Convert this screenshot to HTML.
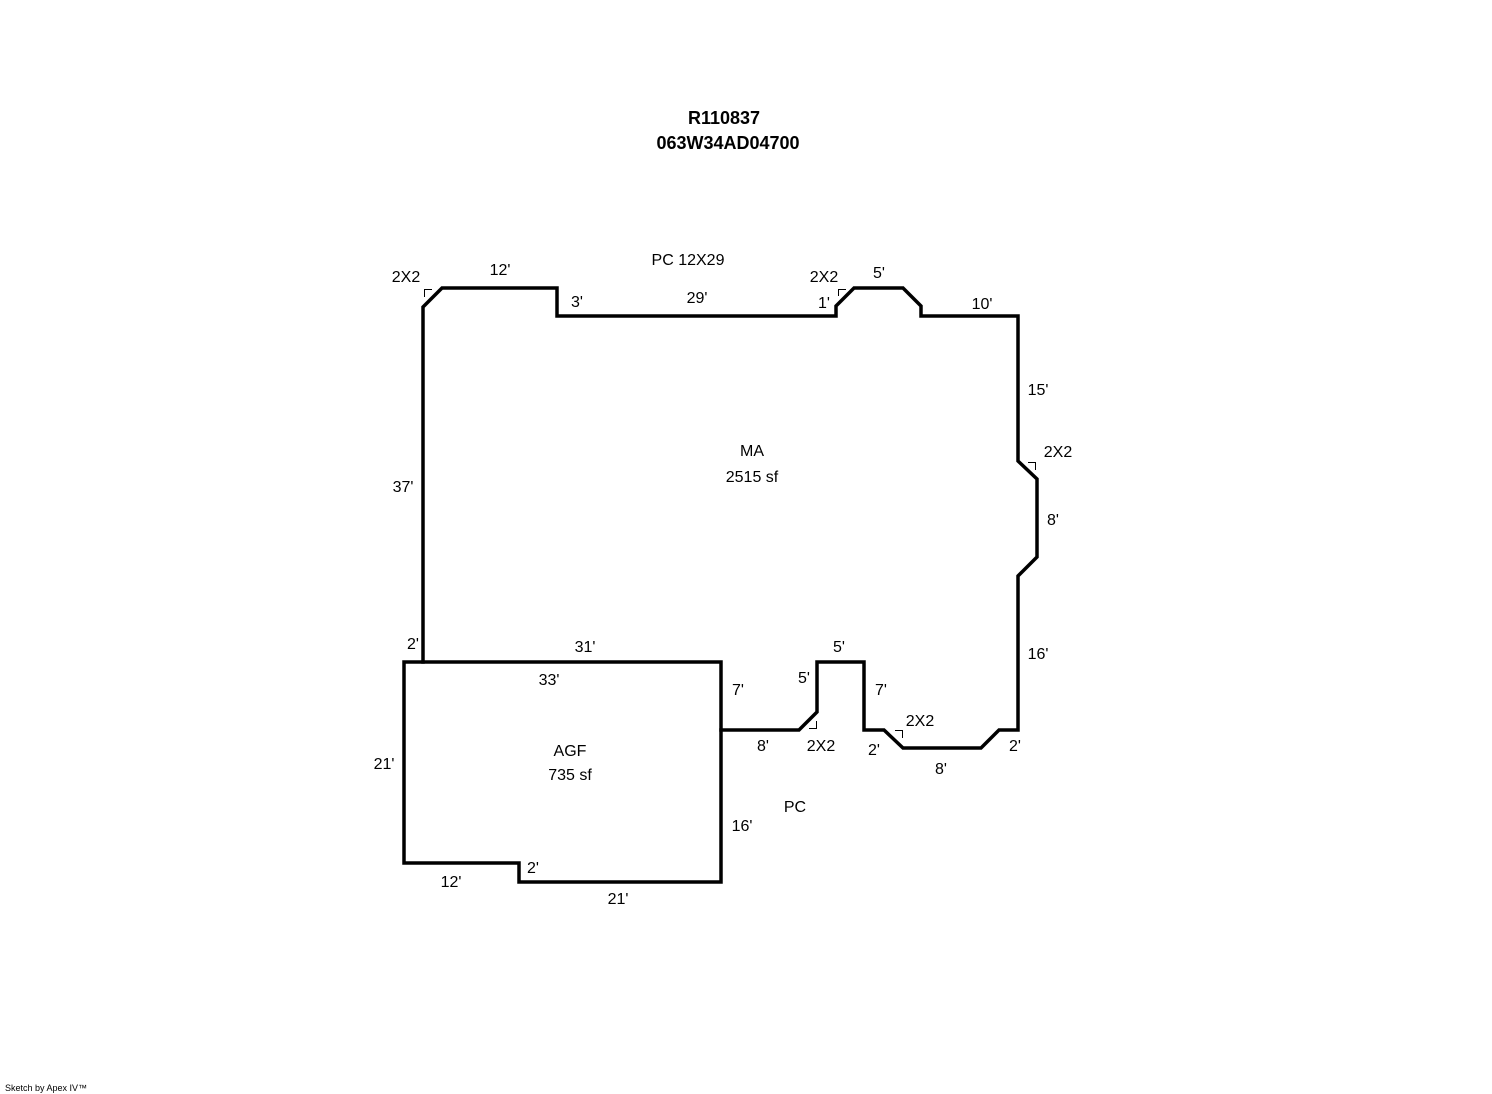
<!DOCTYPE html>
<html><head><meta charset="utf-8"><style>
html,body{margin:0;padding:0;background:#fff;width:1492px;height:1094px;overflow:hidden}
svg{display:block}
text{font-family:"Liberation Sans",Arial,sans-serif;font-size:16px;fill:#000}
</style></head><body>
<svg width="1492" height="1094" viewBox="0 0 1492 1094" xmlns="http://www.w3.org/2000/svg">
<g fill="none" stroke="#000" stroke-width="3.5" stroke-linejoin="miter" stroke-linecap="square">
<polyline points="423,662 423,307 442,288 557,288 557,316 836,316 836,306 854,288 903,288 921,306 921,316 1018,316 1018,461 1037,479 1037,557 1018,576 1018,730 999,730 981,748 903,748 884,730 864,730 864,662 817,662 817,712 799,730 721,730"/>
<polygon points="404,662 721,662 721,882 519,882 519,863 404,863"/>
</g>
<g fill="none" stroke="#000" stroke-width="1">
<polyline points="424.5,297 424.5,289.5 432,289.5"/>
<polyline points="838.5,296 838.5,289.5 846,289.5"/>
<polyline points="1028,462.5 1035.5,462.5 1035.5,470"/>
<polyline points="816.5,721 816.5,728.5 809,728.5"/>
<polyline points="895,730.5 902.5,730.5 902.5,738"/>
</g>
<g text-anchor="middle">
<text x="724" y="124" style="font-weight:bold;font-size:18px">R110837</text>
<text x="728" y="149" style="font-weight:bold;font-size:18px">063W34AD04700</text>
<text x="688" y="265">PC 12X29</text>
<text x="406" y="282">2X2</text>
<text x="500" y="275">12'</text>
<text x="577" y="307">3'</text>
<text x="697" y="303">29'</text>
<text x="824" y="282">2X2</text>
<text x="824" y="308">1'</text>
<text x="879" y="278">5'</text>
<text x="982" y="309">10'</text>
<text x="1038" y="395">15'</text>
<text x="1058" y="457">2X2</text>
<text x="1053" y="525">8'</text>
<text x="1038" y="659">16'</text>
<text x="752" y="456">MA</text>
<text x="752" y="482">2515 sf</text>
<text x="403" y="492">37'</text>
<text x="413" y="649">2'</text>
<text x="585" y="652">31'</text>
<text x="549" y="685">33'</text>
<text x="738" y="695">7'</text>
<text x="839" y="652">5'</text>
<text x="804" y="683">5'</text>
<text x="881" y="695">7'</text>
<text x="920" y="726">2X2</text>
<text x="763" y="751">8'</text>
<text x="821" y="751">2X2</text>
<text x="874" y="755">2'</text>
<text x="1015" y="751">2'</text>
<text x="941" y="774">8'</text>
<text x="570" y="756">AGF</text>
<text x="570" y="780">735 sf</text>
<text x="384" y="769">21'</text>
<text x="742" y="831">16'</text>
<text x="795" y="812">PC</text>
<text x="533" y="873">2'</text>
<text x="451" y="887">12'</text>
<text x="618" y="904">21'</text>
</g>
<text x="5" y="1091" style="font-size:9px">Sketch by Apex IV™</text>
</svg>
</body></html>
